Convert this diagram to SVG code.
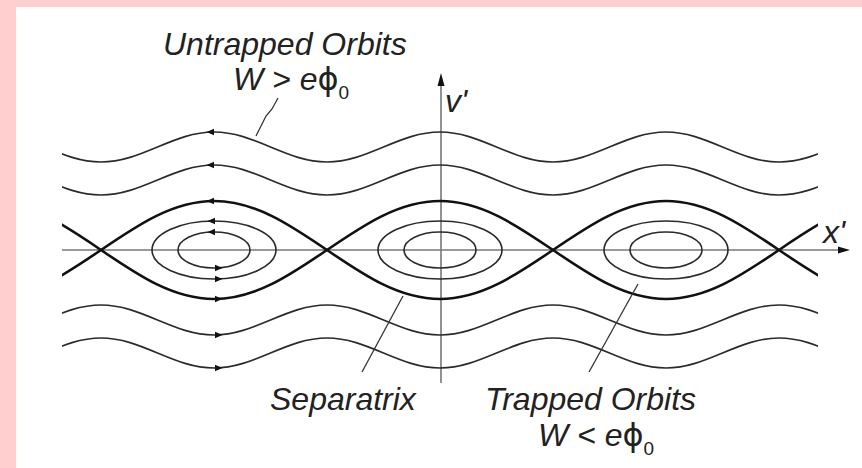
<svg xmlns="http://www.w3.org/2000/svg" xmlns:xlink="http://www.w3.org/1999/xlink" width="862" height="468" viewBox="0 0 862 468">
<style>
.wave{fill:none;stroke:#2a2a2a;stroke-width:1.6}
.sep{fill:none;stroke:#111;stroke-width:2.6}
.orb{fill:none;stroke:#2a2a2a;stroke-width:1.6}
.axis{fill:none;stroke:#777;stroke-width:1.6}
.lead{fill:none;stroke:#333;stroke-width:1.3}
.arr{fill:#111}
.lbl{font-family:"Liberation Sans","DejaVu Sans",sans-serif;font-style:italic;font-size:32px;fill:#222}
.sym{font-style:normal;font-family:"DejaVu Sans","Liberation Sans",sans-serif}
.sub{font-style:normal;font-size:19px}
</style>
<defs>
<clipPath id="cl"><rect x="62" y="0" width="756" height="468"/></clipPath>
<path id="wave" d="M -12 -15 c 20.45 0 38.07 7.32 56.5 15 c 18.43 7.68 36.05 15 56.5 15 c 20.45 0 38.07 -7.32 56.5 -15 c 18.43 -7.68 36.05 -15 56.5 -15 c 20.45 0 38.07 7.32 56.5 15 c 18.43 7.68 36.05 15 56.5 15 c 20.45 0 38.07 -7.32 56.5 -15 c 18.43 -7.68 36.05 -15 56.5 -15 c 20.45 0 38.07 7.32 56.5 15 c 18.43 7.68 36.05 15 56.5 15 c 20.45 0 38.07 -7.32 56.5 -15 c 18.43 -7.68 36.05 -15 56.5 -15 c 20.45 0 38.07 7.32 56.5 15 c 18.43 7.68 36.05 15 56.5 15 c 20.45 0 38.07 -7.32 56.5 -15 c 18.43 -7.68 36.05 -15 56.5 -15"/>
<path id="al" d="M-4.5 0 L3 -3.2 L3 3.2 Z"/>
<path id="ar" d="M4.5 0 L-3 -3.2 L-3 3.2 Z"/>
</defs>
<rect x="0" y="0" width="862" height="468" fill="#ffcfcf"/>
<rect x="16" y="7" width="846" height="461" fill="#ffffff"/>

<g id="axes">
<line class="axis" x1="62" y1="250" x2="842" y2="250"/>
<path class="arr" d="M850 250 L838 246.5 L838 253.5 Z"/>
<line class="axis" x1="441" y1="383" x2="441" y2="82"/>
<path class="arr" d="M441 73 L437.5 86 L444.5 86 Z"/>
</g>

<g id="untrapped" clip-path="url(#cl)">
<use xlink:href="#wave" class="wave" transform="translate(0,147)"/>
<use xlink:href="#wave" class="wave" transform="translate(0,180)"/>
<use xlink:href="#wave" class="wave" transform="translate(0,320) scale(1,-1)"/>
<use xlink:href="#wave" class="wave" transform="translate(0,353) scale(1,-1)"/>
</g>

<g id="separatrix" clip-path="url(#cl)">
<path class="sep" d="M -125 250 c 36.85 -25.1 72.1 -49 113 -49 c 40.9 0 76.15 23.9 113 49 c 36.85 -25.1 72.1 -49 113 -49 c 40.9 0 76.15 23.9 113 49 c 36.85 -25.1 72.1 -49 113 -49 c 40.9 0 76.15 23.9 113 49 c 36.85 -25.1 72.1 -49 113 -49 c 40.9 0 76.15 23.9 113 49 c 36.85 -25.1 72.1 -49 113 -49 c 40.9 0 76.15 23.9 113 49"/>
<path class="sep" d="M -125 250 c 36.85 25.1 72.1 49 113 49 c 40.9 0 76.15 -23.9 113 -49 c 36.85 25.1 72.1 49 113 49 c 40.9 0 76.15 -23.9 113 -49 c 36.85 25.1 72.1 49 113 49 c 40.9 0 76.15 -23.9 113 -49 c 36.85 25.1 72.1 49 113 49 c 40.9 0 76.15 -23.9 113 -49 c 36.85 25.1 72.1 49 113 49 c 40.9 0 76.15 -23.9 113 -49"/>
</g>

<g id="trapped">
<ellipse class="orb" cx="214" cy="250" rx="62" ry="29"/>
<ellipse class="orb" cx="214" cy="250" rx="36" ry="18"/>
<ellipse class="orb" cx="440" cy="250" rx="62" ry="29"/>
<ellipse class="orb" cx="440" cy="250" rx="36" ry="18"/>
<ellipse class="orb" cx="666" cy="250" rx="62" ry="29"/>
<ellipse class="orb" cx="666" cy="250" rx="36" ry="18"/>
</g>

<g id="flow-arrows" class="arr">
<use xlink:href="#al" x="211" y="132"/>
<use xlink:href="#al" x="211" y="165"/>
<use xlink:href="#al" x="211" y="201"/>
<use xlink:href="#al" x="212" y="221"/>
<use xlink:href="#al" x="212" y="232"/>
<use xlink:href="#ar" x="218" y="268"/>
<use xlink:href="#ar" x="218" y="279"/>
<use xlink:href="#ar" x="218" y="299"/>
<use xlink:href="#ar" x="218" y="335"/>
<use xlink:href="#ar" x="218" y="368"/>
</g>

<g id="connectors">
<polyline class="lead" points="278,98 272,109 266,116 256,136"/>
<line class="lead" x1="362" y1="372" x2="403" y2="296"/>
<line class="lead" x1="589" y1="372" x2="638" y2="284"/>
</g>

<g id="label-untrapped">
<text class="lbl" x="163" y="55">Untrapped Orbits</text>
<text class="lbl" x="233" y="90" font-size="29">W &gt; e<tspan class="sym">ϕ</tspan><tspan class="sub" dy="9">0</tspan></text>
</g>
<g id="label-v">
<text class="lbl" x="445" y="112">v'</text>
</g>
<g id="label-x">
<text class="lbl" x="823" y="243">x'</text>
</g>
<g id="label-separatrix">
<text class="lbl" x="270" y="410">Separatrix</text>
</g>
<g id="label-trapped">
<text class="lbl" x="485" y="410">Trapped Orbits</text>
<text class="lbl" x="538" y="446" font-size="29">W &lt; e<tspan class="sym">ϕ</tspan><tspan class="sub" dy="9">0</tspan></text>
</g>
</svg>
